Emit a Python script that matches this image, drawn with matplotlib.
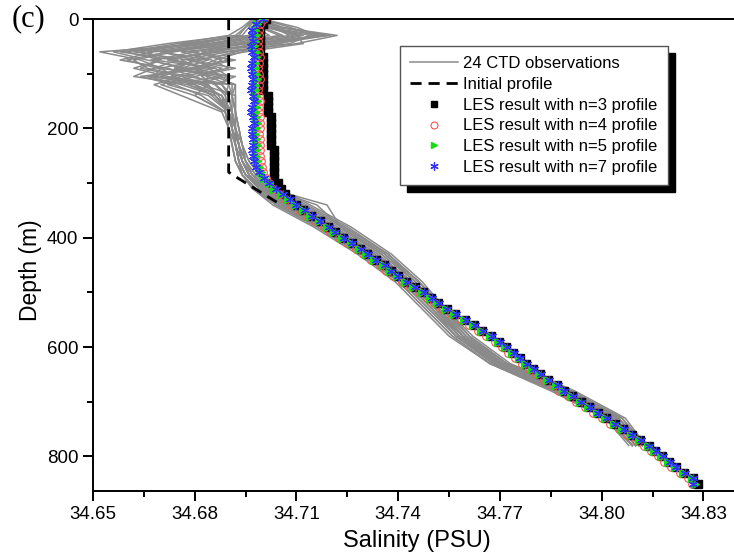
import numpy as np
import matplotlib.pyplot as plt
from matplotlib.lines import Line2D
from matplotlib.patches import Rectangle

plt.rcParams['font.family'] = ['Liberation Sans', 'DejaVu Sans']

# CTD casts, salinity (PSU) at these depths (m)
ctd_depth = [0, 15, 30, 45, 60, 75, 90, 105, 120, 140, 170, 200, 230, 260, 285,
             310, 340, 380, 430, 480, 530, 580, 630, 680, 730, 780]

cast01 = [34.699, 34.700, 34.718, 34.695, 34.670, 34.680, 34.675, 34.684, 34.690, 34.691, 34.692, 34.692, 34.693, 34.694, 34.696, 34.700, 34.710, 34.720, 34.733, 34.743, 34.751, 34.758, 34.770, 34.789, 34.804, 34.811]
cast02 = [34.698, 34.696, 34.700, 34.685, 34.652, 34.664, 34.670, 34.668, 34.680, 34.688, 34.690, 34.691, 34.692, 34.693, 34.695, 34.699, 34.706, 34.718, 34.731, 34.742, 34.750, 34.757, 34.769, 34.788, 34.803, 34.810]
cast03 = [34.700, 34.705, 34.722, 34.710, 34.690, 34.676, 34.682, 34.666, 34.676, 34.686, 34.691, 34.692, 34.692, 34.694, 34.697, 34.702, 34.719, 34.723, 34.735, 34.745, 34.752, 34.759, 34.771, 34.790, 34.805, 34.812]
cast04 = [34.697, 34.694, 34.690, 34.675, 34.660, 34.670, 34.662, 34.672, 34.684, 34.680, 34.689, 34.690, 34.691, 34.692, 34.694, 34.698, 34.704, 34.716, 34.729, 34.740, 34.748, 34.756, 34.767, 34.786, 34.802, 34.809]
cast05 = [34.699, 34.702, 34.712, 34.700, 34.682, 34.690, 34.678, 34.688, 34.672, 34.684, 34.690, 34.692, 34.693, 34.695, 34.698, 34.703, 34.712, 34.724, 34.737, 34.746, 34.753, 34.761, 34.772, 34.791, 34.806, 34.813]
cast06 = [34.698, 34.699, 34.705, 34.690, 34.668, 34.658, 34.672, 34.680, 34.686, 34.690, 34.691, 34.691, 34.692, 34.693, 34.695, 34.699, 34.707, 34.719, 34.732, 34.743, 34.751, 34.758, 34.769, 34.788, 34.803, 34.810]
cast07 = [34.700, 34.708, 34.715, 34.705, 34.676, 34.685, 34.690, 34.676, 34.668, 34.676, 34.688, 34.690, 34.691, 34.692, 34.694, 34.697, 34.703, 34.715, 34.728, 34.739, 34.747, 34.755, 34.767, 34.785, 34.801, 34.809]
cast08 = [34.699, 34.697, 34.696, 34.680, 34.664, 34.675, 34.668, 34.662, 34.678, 34.686, 34.690, 34.691, 34.693, 34.694, 34.696, 34.701, 34.709, 34.721, 34.734, 34.744, 34.752, 34.759, 34.770, 34.789, 34.804, 34.811]
cast09 = [34.697, 34.701, 34.710, 34.712, 34.695, 34.680, 34.674, 34.686, 34.692, 34.692, 34.692, 34.693, 34.694, 34.695, 34.697, 34.702, 34.716, 34.723, 34.736, 34.746, 34.753, 34.760, 34.772, 34.790, 34.805, 34.812]
cast10 = [34.698, 34.695, 34.692, 34.672, 34.656, 34.666, 34.678, 34.670, 34.682, 34.688, 34.689, 34.690, 34.691, 34.692, 34.694, 34.698, 34.705, 34.717, 34.730, 34.741, 34.749, 34.757, 34.768, 34.787, 34.802, 34.809]
cast11 = [34.700, 34.704, 34.720, 34.698, 34.686, 34.672, 34.686, 34.690, 34.688, 34.691, 34.692, 34.693, 34.694, 34.696, 34.699, 34.705, 34.714, 34.726, 34.738, 34.747, 34.754, 34.762, 34.773, 34.792, 34.807, 34.813]
cast12 = [34.699, 34.698, 34.702, 34.688, 34.674, 34.662, 34.666, 34.678, 34.690, 34.689, 34.690, 34.691, 34.692, 34.693, 34.695, 34.699, 34.706, 34.718, 34.731, 34.742, 34.750, 34.758, 34.769, 34.788, 34.803, 34.810]
cast13 = [34.698, 34.703, 34.708, 34.692, 34.680, 34.688, 34.683, 34.664, 34.674, 34.682, 34.689, 34.691, 34.692, 34.693, 34.695, 34.700, 34.708, 34.720, 34.733, 34.743, 34.751, 34.759, 34.770, 34.789, 34.804, 34.811]
cast14 = [34.697, 34.696, 34.694, 34.678, 34.662, 34.678, 34.688, 34.682, 34.686, 34.690, 34.691, 34.692, 34.693, 34.694, 34.696, 34.700, 34.707, 34.719, 34.732, 34.743, 34.751, 34.758, 34.770, 34.788, 34.803, 34.810]
cast15 = [34.700, 34.710, 34.716, 34.702, 34.692, 34.682, 34.670, 34.674, 34.680, 34.685, 34.690, 34.692, 34.693, 34.695, 34.697, 34.702, 34.711, 34.723, 34.736, 34.745, 34.752, 34.760, 34.771, 34.790, 34.805, 34.812]
cast16 = [34.699, 34.697, 34.698, 34.684, 34.666, 34.670, 34.664, 34.676, 34.684, 34.687, 34.690, 34.691, 34.692, 34.693, 34.694, 34.698, 34.705, 34.717, 34.730, 34.741, 34.749, 34.757, 34.768, 34.787, 34.802, 34.809]
cast17 = [34.698, 34.700, 34.706, 34.696, 34.678, 34.692, 34.680, 34.690, 34.678, 34.688, 34.691, 34.692, 34.694, 34.695, 34.698, 34.703, 34.712, 34.724, 34.737, 34.746, 34.754, 34.761, 34.772, 34.791, 34.806, 34.812]
cast18 = [34.700, 34.702, 34.714, 34.708, 34.688, 34.667, 34.676, 34.668, 34.688, 34.690, 34.691, 34.692, 34.693, 34.694, 34.696, 34.700, 34.708, 34.720, 34.733, 34.744, 34.751, 34.759, 34.770, 34.789, 34.804, 34.811]
cast19 = [34.697, 34.695, 34.693, 34.682, 34.658, 34.674, 34.684, 34.688, 34.691, 34.691, 34.692, 34.692, 34.693, 34.694, 34.696, 34.699, 34.706, 34.718, 34.731, 34.742, 34.750, 34.757, 34.768, 34.787, 34.802, 34.809]
cast20 = [34.699, 34.706, 34.719, 34.704, 34.684, 34.678, 34.692, 34.680, 34.670, 34.680, 34.689, 34.690, 34.692, 34.693, 34.695, 34.701, 34.710, 34.722, 34.735, 34.745, 34.752, 34.759, 34.771, 34.790, 34.805, 34.811]
cast21 = [34.698, 34.699, 34.700, 34.686, 34.670, 34.684, 34.676, 34.684, 34.682, 34.692, 34.692, 34.693, 34.694, 34.696, 34.699, 34.704, 34.713, 34.725, 34.737, 34.746, 34.753, 34.761, 34.772, 34.791, 34.806, 34.813]
cast22 = [34.700, 34.701, 34.711, 34.694, 34.672, 34.660, 34.669, 34.692, 34.686, 34.689, 34.690, 34.691, 34.692, 34.693, 34.694, 34.697, 34.704, 34.716, 34.729, 34.740, 34.748, 34.756, 34.767, 34.786, 34.801, 34.808]
cast23 = [34.699, 34.698, 34.697, 34.676, 34.680, 34.668, 34.686, 34.673, 34.684, 34.686, 34.690, 34.692, 34.693, 34.694, 34.697, 34.701, 34.709, 34.721, 34.734, 34.744, 34.752, 34.759, 34.770, 34.789, 34.804, 34.811]
cast24 = [34.698, 34.704, 34.709, 34.700, 34.694, 34.686, 34.680, 34.666, 34.692, 34.691, 34.691, 34.692, 34.693, 34.694, 34.696, 34.700, 34.707, 34.719, 34.732, 34.743, 34.751, 34.758, 34.769, 34.788, 34.803, 34.810]
casts = [cast01, cast02, cast03, cast04, cast05, cast06, cast07, cast08, cast09, cast10, cast11, cast12,
         cast13, cast14, cast15, cast16, cast17, cast18, cast19, cast20, cast21, cast22, cast23, cast24]

# initial profile (below ~340 m it lies under the LES markers)
init_depth = [0, 280, 290, 340]
init_sal = [34.690, 34.690, 34.6925, 34.7055]

# LES results on model levels (every 10 m)
les_depth = list(range(0, 860, 10))
les_n7 = [34.700, 34.698, 34.697, 34.6968, 34.6972, 34.6966, 34.6970, 34.6974, 34.6968, 34.6965,
          34.6970, 34.6973, 34.6968, 34.6966, 34.6971, 34.6974, 34.6969, 34.6967, 34.6972, 34.6975,
          34.6970, 34.6968, 34.6971, 34.6973, 34.6970, 34.6972, 34.6975, 34.698, 34.699, 34.7005,
          34.702, 34.704, 34.706, 34.708, 34.710, 34.7125, 34.7145, 34.717, 34.7195, 34.7215,
          34.724, 34.7265, 34.729, 34.731, 34.7335, 34.736, 34.738, 34.740, 34.7425, 34.745,
          34.7475, 34.750, 34.752, 34.7545, 34.757, 34.760, 34.7625, 34.765, 34.7675, 34.770,
          34.772, 34.774, 34.776, 34.778, 34.780, 34.782, 34.7845, 34.787, 34.789, 34.7915,
          34.794, 34.7965, 34.799, 34.8015, 34.804, 34.8065, 34.809, 34.8115, 34.814, 34.816,
          34.818, 34.820, 34.822, 34.8245, 34.827, 34.8268]
les_n5 = [34.700, 34.6985, 34.6978, 34.6980, 34.6978, 34.6976, 34.6980, 34.6982, 34.6979, 34.6977,
          34.6980, 34.6983, 34.6979, 34.6977, 34.6981, 34.6983, 34.6980, 34.6978, 34.6981, 34.6984,
          34.6981, 34.6979, 34.6982, 34.6983, 34.6981, 34.6982, 34.6984, 34.6988, 34.6995, 34.7005,
          34.7018, 34.7035, 34.7055, 34.7075, 34.7095, 34.712, 34.714, 34.7165, 34.719, 34.721,
          34.7235, 34.726, 34.7285, 34.7305, 34.733, 34.7355, 34.7375, 34.7395, 34.742, 34.7445,
          34.747, 34.7495, 34.7515, 34.754, 34.7565, 34.7595, 34.762, 34.7645, 34.767, 34.7695,
          34.7715, 34.7735, 34.7755, 34.7775, 34.7795, 34.7815, 34.784, 34.7865, 34.7885, 34.791,
          34.7935, 34.796, 34.7985, 34.801, 34.8035, 34.806, 34.8085, 34.811, 34.8135, 34.8155,
          34.8175, 34.8195, 34.8215, 34.824, 34.8265, 34.8275]
les_n4 = [34.7005, 34.6992, 34.6988, 34.6990, 34.6987, 34.6986, 34.6989, 34.6991, 34.6988, 34.6987,
          34.6990, 34.6992, 34.6989, 34.6987, 34.6990, 34.6992, 34.6990, 34.6988, 34.6991, 34.6993,
          34.6991, 34.6989, 34.6991, 34.6992, 34.6991, 34.6992, 34.6994, 34.6997, 34.7002, 34.7010,
          34.7018, 34.7030, 34.7048, 34.7066, 34.7085, 34.7108, 34.713, 34.7155, 34.718, 34.720,
          34.7225, 34.725, 34.7275, 34.7295, 34.732, 34.7345, 34.7365, 34.7385, 34.741, 34.7435,
          34.746, 34.7485, 34.7505, 34.753, 34.7555, 34.7585, 34.761, 34.7635, 34.766, 34.7685,
          34.7705, 34.7725, 34.7745, 34.7765, 34.7785, 34.7805, 34.783, 34.7855, 34.7875, 34.790,
          34.7925, 34.795, 34.7975, 34.800, 34.8025, 34.805, 34.8075, 34.810, 34.8125, 34.8145,
          34.8165, 34.8185, 34.8205, 34.823, 34.8255, 34.8265]
les_n3 = [34.701, 34.700, 34.6993, 34.6993, 34.6993, 34.6993, 34.6993, 34.7001, 34.7001, 34.7001,
          34.7001, 34.7001, 34.7001, 34.7001, 34.7016, 34.7016, 34.7016, 34.7016, 34.7025, 34.7025,
          34.7025, 34.7025, 34.7025, 34.7025, 34.7035, 34.7035, 34.7035, 34.7035, 34.7035, 34.7035,
          34.7045, 34.7055, 34.7065, 34.708, 34.7098, 34.712, 34.7143, 34.7168, 34.7193, 34.7213,
          34.7238, 34.7263, 34.7288, 34.7308, 34.7333, 34.7358, 34.7378, 34.7398, 34.7423, 34.7448,
          34.7473, 34.7498, 34.7518, 34.7543, 34.7568, 34.7598, 34.7623, 34.7648, 34.7673, 34.7698,
          34.7718, 34.7738, 34.7758, 34.7778, 34.7798, 34.7818, 34.7843, 34.7868, 34.7888, 34.7913,
          34.7938, 34.7963, 34.7988, 34.8013, 34.8038, 34.8063, 34.8088, 34.8113, 34.8138, 34.8158,
          34.8178, 34.8198, 34.8218, 34.8243, 34.8268, 34.8285]

fig = plt.figure(figsize=(7.34, 5.56), dpi=100)
ax = fig.add_axes([0.1267, 0.117, 0.8733, 0.8488])

gray = '#8a8a8a'
for c in casts:
    ax.plot(c, ctd_depth, color=gray, lw=1.1, zorder=1)
ax.plot(init_sal, init_depth, color='k', lw=2, ls=(0, (4, 2.5)), zorder=2)
ax.plot(les_n3, les_depth, ls='none', marker='s', ms=5.5, color='k', zorder=3)
ax.plot(les_n4, les_depth, ls='none', marker='o', ms=5.5, mfc='none', mec='#ff5050', mew=0.8, zorder=4)
ax.plot(les_n5, les_depth, ls='none', marker='>', ms=5.5, color='#10e010', zorder=5)
ax.plot(les_n7, les_depth, ls='none', marker=(6, 2, 0), ms=6.5, color='#3030ff', mew=0.9, zorder=6)

ax.set_xlim(34.65, 34.839)
ax.set_ylim(863, 0)
ax.set_xticks(np.arange(34.65, 34.831, 0.03))
ax.set_xticks(np.arange(34.665, 34.84, 0.03), minor=True)
ax.set_yticks([0, 200, 400, 600, 800])
ax.set_yticks([100, 300, 500, 700], minor=True)
ax.xaxis.set_major_formatter(plt.FormatStrFormatter('%.2f'))
ax.spines['right'].set_visible(False)
for s in ['left', 'bottom', 'top']:
    ax.spines[s].set_linewidth(1.4)
ax.tick_params(which='major', direction='out', length=7, width=1.4, labelsize=13.5, top=False, right=False)
ax.tick_params(which='minor', direction='out', length=4, width=1.4, top=False, right=False)
ax.set_xlabel('Salinity (PSU)', fontsize=17)
ax.set_ylabel('Depth (m)', fontsize=16.5)
ax.xaxis.set_label_coords(0.505, -0.083)
ax.yaxis.set_label_coords(-0.08, 0.468)

fig.text(0.016, 0.967, '(c)', fontsize=22, family='Liberation Serif', va='center')

handles = [Line2D([], [], color=gray, lw=1.1),
           Line2D([], [], color='k', lw=2, ls=(0, (4, 2.5))),
           Line2D([], [], ls='none', marker='s', ms=5, color='k'),
           Line2D([], [], ls='none', marker='o', ms=5, mfc='none', mec='#ff5050', mew=0.8),
           Line2D([], [], ls='none', marker='>', ms=5, color='#10e010'),
           Line2D([], [], ls='none', marker=(6, 2, 0), ms=6, color='#3030ff', mew=0.9)]
labels = ['24 CTD observations', 'Initial profile', 'LES result with n=3 profile',
          'LES result with n=4 profile', 'LES result with n=5 profile', 'LES result with n=7 profile']
leg = ax.legend(handles, labels, loc='upper left', bbox_to_anchor=(0.545, 0.9173),
                bbox_transform=fig.transFigure, borderaxespad=0, fontsize=12, fancybox=False,
                framealpha=1, edgecolor='#555555', borderpad=0.6, handlelength=2.9,
                handletextpad=0.3, labelspacing=0.35)
leg.get_frame().set_linewidth(1.0)

# solid black drop shadow behind the legend
fig.canvas.draw()
bb = leg.get_frame().get_window_extent().transformed(fig.transFigure.inverted())
ax.add_patch(Rectangle((bb.x0 + 7 / 734, bb.y0 - 7 / 556), bb.width, bb.height,
                       transform=fig.transFigure, color='k', zorder=4.9, clip_on=False))

plt.savefig('out.png', dpi=100)
